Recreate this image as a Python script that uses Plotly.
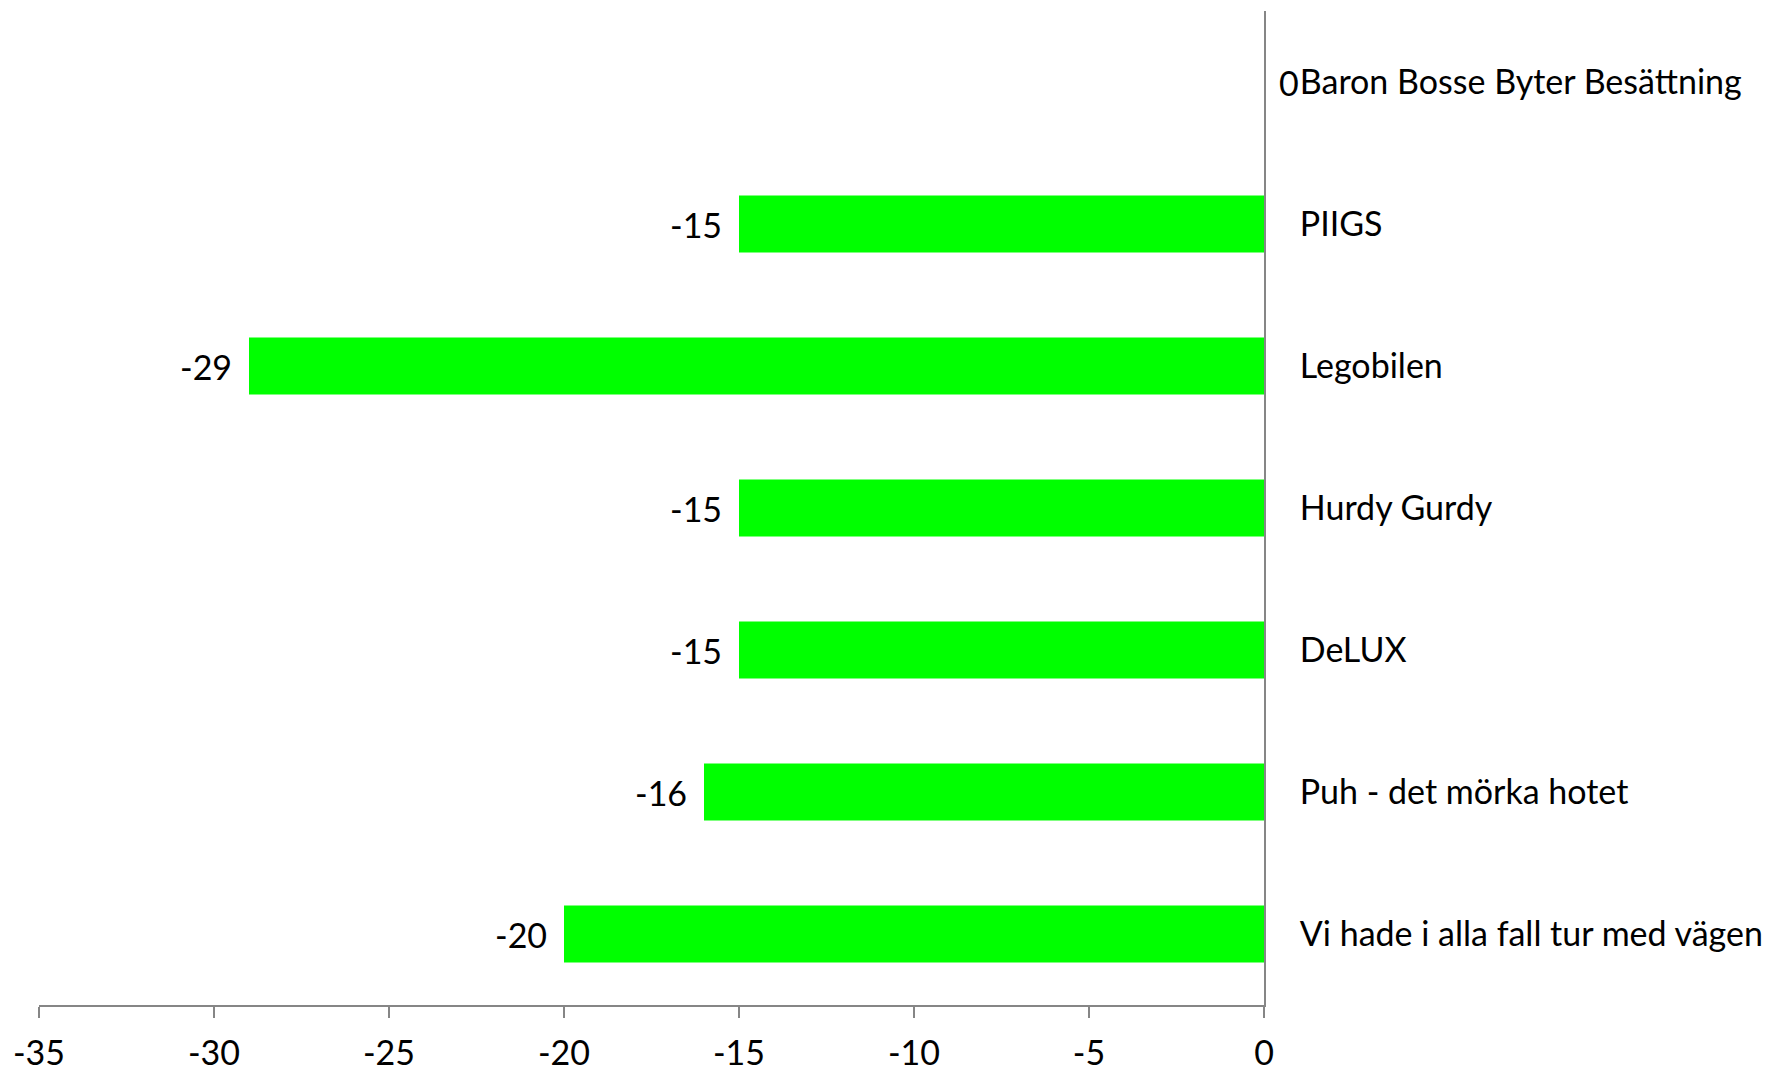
import plotly.graph_objects as go

categories = ["Baron Bosse Byter Besättning", "PIIGS", "Legobilen", "Hurdy Gurdy",
              "DeLUX", "Puh - det mörka hotet", "Vi hade i alla fall tur med vägen"]
values = [0, -15, -29, -15, -15, -16, -20]
x_ticks = [-35, -30, -25, -20, -15, -10, -5, 0]

FONT = "Lato"
FS = 34
GRAY = "#868686"

fig = go.Figure(go.Bar(
    x=values, y=categories, orientation="h",
    marker=dict(color="#00FF00", line=dict(width=0)),
    width=0.4, hoverinfo="x+y",
))

annotations = []
for c, v in zip(categories, values):
    if v < 0:
        annotations.append(dict(x=v, y=c, xref="x", yref="y", text=str(v), showarrow=False,
                                xanchor="right", xshift=-15, font=dict(family=FONT, size=FS, color="black")))
    else:
        annotations.append(dict(x=v, y=c, xref="x", yref="y", text=str(v), showarrow=False,
                                xanchor="left", xshift=13, font=dict(family=FONT, size=FS, color="black")))

fig.update_layout(
    width=1780, height=1071,
    margin=dict(l=31, r=524, t=3, b=74),
    paper_bgcolor="white", plot_bgcolor="white",
    showlegend=False,
    font=dict(family=FONT, size=FS, color="black"),
    annotations=annotations,
    xaxis=dict(range=[-35, 0], tickvals=x_ticks, ticktext=[str(t) for t in x_ticks],
               showgrid=False, zeroline=False, showline=True, linecolor=GRAY, linewidth=2,
               ticks="outside", ticklen=11, tickcolor=GRAY, tickwidth=2, ticklabelstandoff=6,
               automargin=False,
               tickfont=dict(family=FONT, size=FS, color="black")),
    yaxis=dict(categoryorder="array", categoryarray=categories, autorange="reversed",
               side="right", showgrid=False, zeroline=False, showline=True, linecolor=GRAY,
               linewidth=2, ticks="", ticklabelstandoff=27, automargin=False,
               tickfont=dict(family=FONT, size=FS, color="black")),
)

fig.write_html("out.html")
